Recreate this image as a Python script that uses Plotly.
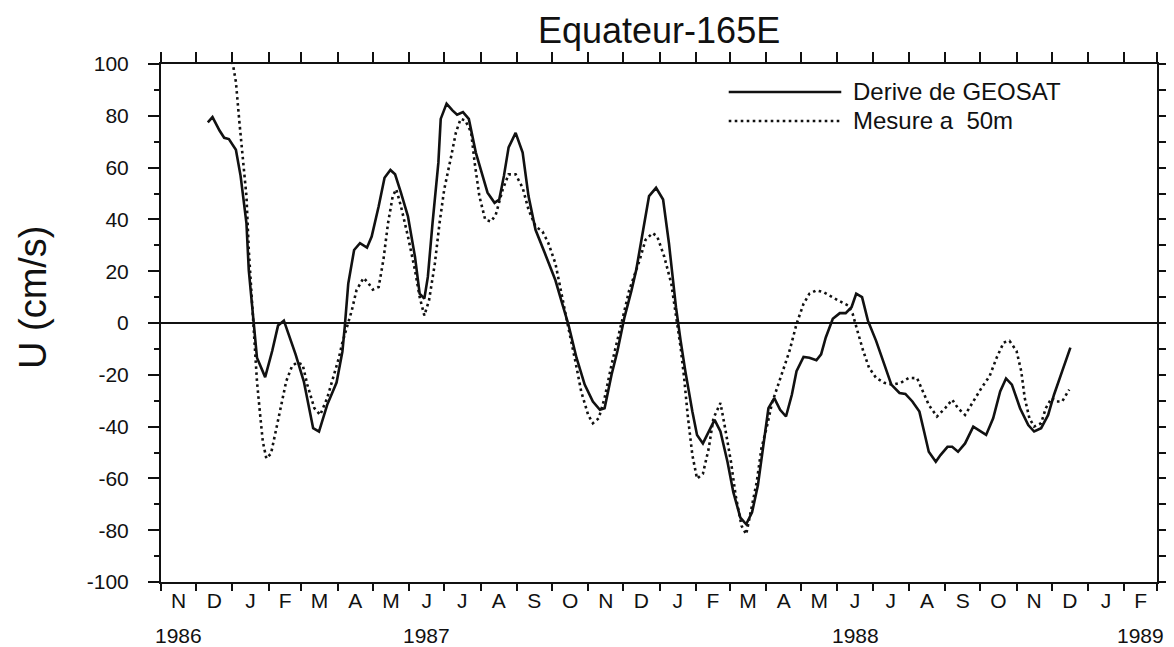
import pandas as pd
import plotly.graph_objects as go

# ---------------- data (days since 1986-11-01, U in cm/s) ----------------
start_date = "1986-11-01"

geosat_day = [40, 44, 50, 54, 58, 64, 68, 73, 75, 79, 82, 89, 95, 100, 105, 109, 115, 122,
              130, 135, 142, 150, 155, 157, 160, 165, 170, 176, 180, 186, 191, 196, 200,
              205, 211, 217, 221, 225, 228, 232, 237, 239, 244, 249, 253, 258, 263, 269,
              275, 279, 285, 289, 293, 297, 303, 309, 314, 320, 328, 337, 342, 348, 355,
              362, 369, 375, 379, 385, 390, 396, 402, 406, 412, 417, 423, 429, 434, 440,
              444, 448, 454, 458, 463, 468, 473, 478, 484, 489, 495, 500, 505, 510, 515,
              519, 524, 529, 534, 539, 543, 549, 554, 560, 564, 568, 574, 580, 585, 590,
              594, 599, 604, 611, 618, 624, 631, 636, 642, 648, 652, 656, 662, 666, 672,
              676, 681, 687, 694, 700, 705, 711, 717, 722, 727, 734, 741, 746, 752, 758,
              763, 770, 777]
geosat_u = [77.5, 79.5, 74.3, 71.5, 71.0, 66.9, 56.8, 38.6, 20.4, 0.3, -13.4, -20.9, -10.8,
            -1.0, 0.9, -4.3, -12.1, -22.5, -40.6, -41.9, -31.6, -23.0, -11.0, -1.5, 15.2,
            28.2, 30.8, 29.1, 33.4, 45.1, 56.1, 59.1, 57.4, 50.3, 41.2, 25.6, 11.3, 9.4,
            17.8, 38.6, 61.9, 78.8, 84.7, 82.1, 80.4, 81.4, 78.8, 65.8, 56.0, 50.3, 46.4,
            47.7, 56.8, 67.8, 73.4, 65.8, 49.0, 36.0, 26.9, 16.5, 8.7, -0.4, -13.4, -23.8,
            -30.3, -33.5, -32.9, -19.9, -10.8, 2.2, 12.6, 20.4, 36.0, 49.0, 52.2, 47.7,
            30.8, 6.1, -6.9, -18.6, -34.2, -43.2, -46.5, -41.9, -37.4, -41.9, -53.6, -65.3,
            -75.1, -77.7, -73.1, -62.7, -45.8, -32.9, -29.0, -33.5, -36.1, -27.7, -18.6,
            -13.1, -13.4, -14.4, -12.1, -5.6, 1.6, 3.8, 3.8, 6.1, 11.3, 10.0, 0.9, -6.9,
            -16.0, -23.8, -27.0, -27.4, -30.3, -34.2, -41.9, -49.7, -53.6, -51.0, -47.8,
            -47.8, -49.7, -46.5, -40.0, -41.9, -43.2, -36.8, -26.4, -21.4, -23.8, -32.9,
            -39.4, -41.9, -40.6, -35.5, -27.7, -18.6, -9.5]

mesure_day = [61, 64, 67, 70, 73, 75, 78, 80, 82, 85, 87, 90, 94, 98, 102, 107, 112, 116,
              121, 125, 131, 136, 142, 147, 152, 155, 159, 163, 167, 173, 177, 181, 186,
              190, 194, 198, 201, 205, 211, 217, 221, 225, 229, 234, 238, 242, 248, 252,
              256, 260, 265, 268, 272, 277, 282, 286, 292, 297, 303, 309, 314, 320, 326,
              331, 337, 342, 348, 354, 359, 365, 369, 374, 379, 385, 390, 396, 400, 403,
              409, 414, 420, 424, 430, 436, 440, 444, 447, 450, 454, 458, 463, 468, 472,
              478, 482, 487, 491, 496, 500, 504, 509, 513, 518, 522, 529, 537, 543, 549,
              554, 560, 566, 573, 580, 587, 591, 595, 600, 605, 611, 618, 625, 632, 639,
              646, 650, 656, 663, 670, 676, 681, 687, 694, 701, 708, 714, 720, 725, 731,
              735, 738, 742, 746, 752, 756, 761, 765, 770, 776]
mesure_u = [101.0, 93.1, 77.5, 64.5, 49.0, 28.2, 7.4, -6.9, -22.5, -36.8, -45.8, -52.3,
            -50.4, -41.9, -32.9, -22.5, -16.6, -15.3, -16.0, -23.8, -32.9, -35.5, -29.0,
            -21.2, -13.4, -7.5, -1.7, 4.8, 12.6, 17.4, 15.5, 12.9, 13.9, 24.3, 38.6, 49.0,
            51.6, 45.1, 33.4, 20.4, 10.0, 2.9, 8.7, 23.0, 38.6, 51.6, 64.5, 73.6, 78.8,
            78.2, 73.6, 61.9, 49.0, 39.9, 39.2, 41.8, 51.6, 57.4, 57.4, 52.2, 43.8, 37.3,
            35.3, 30.8, 23.0, 11.3, -1.7, -14.7, -26.4, -35.5, -38.7, -36.8, -29.0, -16.0,
            -6.9, 4.8, 12.6, 16.5, 24.3, 32.1, 34.7, 33.4, 25.6, 15.2, 3.5, -9.5, -21.2,
            -35.5, -51.0, -60.1, -58.2, -48.4, -36.8, -30.9, -40.6, -53.6, -66.6, -78.3,
            -81.6, -73.1, -61.4, -48.4, -39.4, -31.0, -21.2, -10.8, -0.4, 7.4, 11.3, 12.6,
            11.9, 10.0, 8.4, 6.8, 3.5, -3.0, -10.8, -17.3, -21.2, -23.1, -23.8, -23.1,
            -21.2, -21.3, -25.7, -31.6, -36.1, -32.9, -29.6, -32.9, -35.5, -30.3, -25.1,
            -20.5, -13.4, -7.5, -6.9, -10.8, -18.6, -29.0, -36.8, -40.0, -38.7, -32.9,
            -29.0, -30.3, -30.3, -25.7]

month_letters = ["N", "D", "J", "F", "M", "A", "M", "J", "J", "A", "S", "O", "N", "D",
                 "J", "F", "M", "A", "M", "J", "J", "A", "S", "O", "N", "D", "J", "F"]
year_labels = ["1986", "1987", "1988", "1989"]
year_months = ["1986-11", "1987-06", "1988-06", "1989-02"]
y_ticks = [-100, -80, -60, -40, -20, 0, 20, 40, 60, 80, 100]
y_ticktext = ["-100", "-80", "-60", "-40", "-20", "0", "20", "40", "60", "80", "100"]

title_text = "Equateur-165E"
y_title = "U (cm/s)"
legend_names = ["Derive de GEOSAT", "Mesure a\u00a0 50m"]

# ---------------- derived positions ----------------
t0 = pd.Timestamp(start_date)
geo_x = [t0 + pd.Timedelta(days=d) for d in geosat_day]
mes_x = [t0 + pd.Timedelta(days=d) for d in mesure_day]

month_starts = pd.date_range(start_date, periods=len(month_letters) + 1, freq="MS")
month_mids = [month_starts[i] + (month_starts[i + 1] - month_starts[i]) / 2
              for i in range(len(month_letters))]
x_range = [month_starts[0], month_starts[-1]]

FONT = "Liberation Sans, Arial, Helvetica, sans-serif"
BLACK = "#111111"
DOT = "2.6px,3.4px"

fig = go.Figure()
fig.add_trace(go.Scatter(x=geo_x, y=geosat_u, mode="lines", name=legend_names[0],
                         line=dict(color=BLACK, width=2.6), showlegend=False))
fig.add_trace(go.Scatter(x=mes_x, y=mesure_u, mode="lines", name=legend_names[1],
                         line=dict(color=BLACK, width=2.6, dash=DOT),
                         showlegend=False))

axis_common = dict(type="date", range=x_range, showgrid=False, zeroline=False)

fig.update_layout(
    width=1166, height=639,
    margin=dict(l=153, r=9, t=56, b=65),
    paper_bgcolor="white", plot_bgcolor="white",
    font=dict(family=FONT, color=BLACK),
    xaxis=dict(**axis_common, tickvals=list(month_starts), showticklabels=False,
               ticks="outside", ticklen=7, tickwidth=2, tickcolor=BLACK,
               showline=True, linewidth=2, linecolor=BLACK),
    xaxis2=dict(**axis_common, overlaying="x", anchor="y", side="bottom",
                tickvals=month_mids, ticktext=month_letters, ticks="",
                showline=False, tickfont=dict(size=21, family=FONT, color=BLACK),
                ticklabelstandoff=4),
    xaxis3=dict(**axis_common, overlaying="x", anchor="y", side="top",
                tickvals=list(month_starts), showticklabels=False,
                ticks="outside", ticklen=10, tickwidth=2, tickcolor=BLACK,
                showline=True, linewidth=2, linecolor=BLACK),
    yaxis=dict(range=[-100, 100], tickvals=y_ticks, ticktext=y_ticktext,
               ticks="outside", ticklen=11,
               tickwidth=2, tickcolor=BLACK, showline=True, linewidth=2,
               linecolor=BLACK, showgrid=False, zeroline=True, zerolinecolor=BLACK,
               zerolinewidth=1.6, tickfont=dict(size=21, family=FONT, color=BLACK),
               ticklabelstandoff=15,
               minor=dict(dtick=10, tick0=0, ticks="outside", ticklen=5, tickwidth=2,
                          tickcolor=BLACK)),
    yaxis2=dict(range=[-100, 100], overlaying="y", anchor="x", side="right",
                tickvals=list(range(-100, 101, 10)), showticklabels=False,
                ticks="outside", ticklen=8, tickwidth=2, tickcolor=BLACK,
                showline=True, linewidth=2, linecolor=BLACK, showgrid=False,
                zeroline=False),
)

# invisible anchors so the overlay axes are drawn
fig.add_trace(go.Scatter(x=[], y=[], xaxis="x2", yaxis="y", showlegend=False, hoverinfo="skip"))
fig.add_trace(go.Scatter(x=[], y=[], xaxis="x3", yaxis="y2", showlegend=False, hoverinfo="skip"))

annotations = []
annotations.append(dict(text=title_text, xref="paper", yref="paper", x=0.5, y=1,
                        yshift=34, yanchor="middle", xanchor="center", showarrow=False,
                        font=dict(size=36, family=FONT, color=BLACK)))
annotations.append(dict(text=y_title, xref="paper", yref="paper", x=0, y=0.5,
                        xshift=-128, yshift=26, textangle=-90, xanchor="center",
                        yanchor="middle", showarrow=False,
                        font=dict(size=38, family=FONT, color=BLACK)))
for lab, ym in zip(year_labels, year_months):
    mid = month_mids[[f"{m:%Y-%m}" for m in month_starts[:-1]].index(ym)]
    annotations.append(dict(text=lab, x=mid, xref="x", y=0, yref="paper", yshift=-53,
                            yanchor="middle", xanchor="center", showarrow=False,
                            font=dict(size=21, family=FONT, color=BLACK)))

# manual legend
leg_x0, leg_x1, leg_tx = 0.570, 0.683, 0.693
leg_y = [0.946, 0.890]
dashes = ["solid", DOT]
shapes = []
for name, yy, dsh in zip(legend_names, leg_y, dashes):
    shapes.append(dict(type="line", xref="paper", yref="paper", x0=leg_x0, x1=leg_x1,
                       y0=yy, y1=yy, line=dict(color=BLACK, width=2.6, dash=dsh)))
    annotations.append(dict(text=name, xref="paper", yref="paper", x=leg_tx, y=yy,
                            xanchor="left", yanchor="middle", showarrow=False,
                            font=dict(size=24, family=FONT, color=BLACK)))

fig.update_layout(annotations=annotations, shapes=shapes)
fig.write_html("out.html")
